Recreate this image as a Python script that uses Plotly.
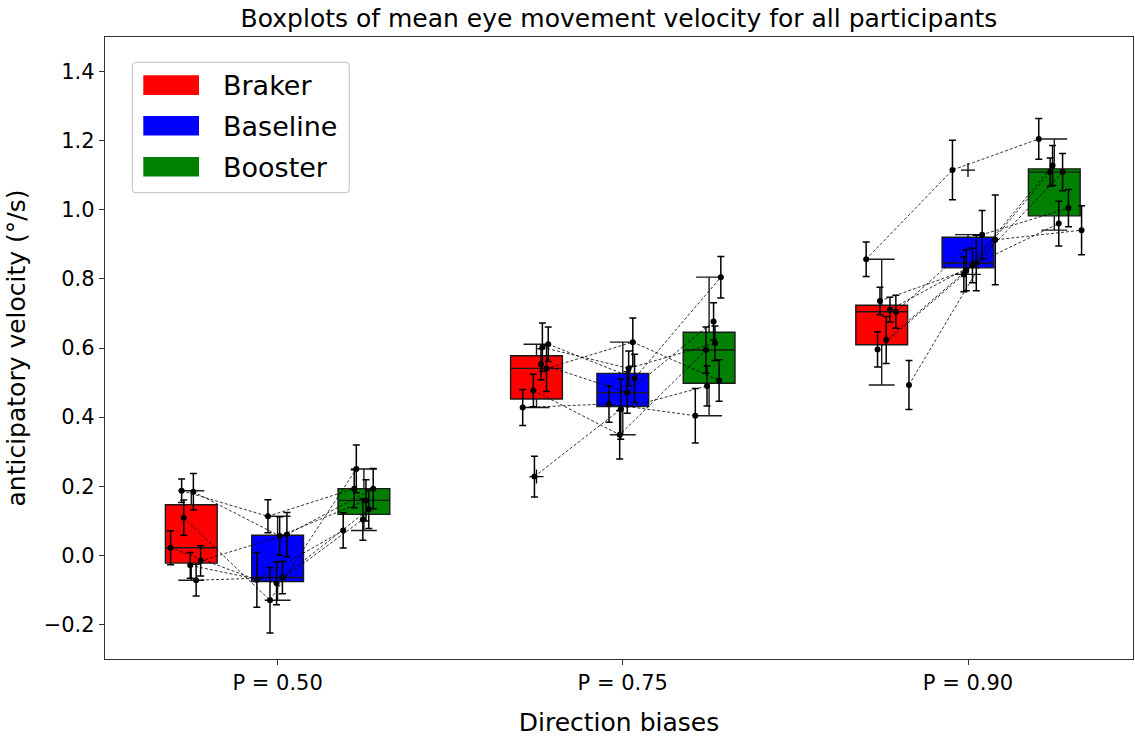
import numpy as np
import plotly.graph_objects as go

# ---------------- data ----------------
groups = ["P = 0.50", "P = 0.75", "P = 0.90"]
conditions = ["Braker", "Baseline", "Booster"]
colors = ["#ff0000", "#0000ff", "#008000"]

# per-participant horizontal jitter inside each direction-bias group
jitter_p50 = [-0.060, -0.028, -0.022, 0.027, 0.014, 0.006, -0.003]
jitter_p75 = [0.034, 0.017, 0.013, 0.029, -0.009, -0.040, -0.006]
jitter_p90 = [-0.045, -0.005, 0.024, 0.041, 0.013, -0.012, 0.079]

# mean anticipatory velocity per participant
braker_p50 = [0.022, 0.187, 0.109, -0.016, -0.072, 0.184, -0.029]
baseline_p50 = [-0.071, 0.113, -0.130, 0.060, -0.064, 0.056, -0.081]
booster_p50 = [0.072, 0.193, 0.250, 0.193, 0.133, 0.159, 0.104]

braker_p75 = [0.611, 0.602, 0.553, 0.541, 0.477, 0.428, 0.228]
baseline_p75 = [0.512, 0.541, 0.471, 0.617, 0.349, 0.438, 0.423]
booster_p75 = [0.805, 0.614, 0.677, 0.506, 0.594, 0.404, 0.490]

braker_p90 = [0.857, 0.736, 0.711, 0.705, 0.623, 0.596, 0.493]
baseline_p90 = [1.115, 0.825, 0.846, 0.928, 0.839, 0.813, 0.913]
booster_p90 = [1.205, 1.128, 1.109, 1.005, 0.960, 1.109, 0.941]

# error bars (half-length) per participant
braker_err_p50 = [0.049, 0.034, 0.051, 0.044, 0.046, 0.053, 0.037]
baseline_err_p50 = [0.079, 0.048, 0.095, 0.064, 0.047, 0.056, 0.062]
booster_err_p50 = [0.051, 0.055, 0.069, 0.058, 0.055, 0.060, 0.060]

braker_err_p75 = [0.050, 0.070, 0.045, 0.067, 0.047, 0.052, 0.059]
baseline_err_p75 = [0.070, 0.050, 0.060, 0.070, 0.070, 0.053, 0.087]
booster_err_p75 = [0.060, 0.050, 0.054, 0.060, 0.067, 0.079, 0.058]

braker_err_p90 = [0.050, 0.040, 0.036, 0.048, 0.068, 0.051, 0.071]
baseline_err_p90 = [0.086, 0.059, 0.080, 0.070, 0.050, 0.050, 0.130]
booster_err_p90 = [0.059, 0.058, 0.054, 0.054, 0.065, 0.041, 0.071]

y_ticks = [-0.2, 0.0, 0.2, 0.4, 0.6, 0.8, 1.0, 1.2, 1.4]

# ---------------- assemble ----------------
group_pos = [0, 1, 2]
cond_offset = [-0.25, 0.0, 0.25]
box_width = 0.15

jitters = [jitter_p50, jitter_p75, jitter_p90]
values = [
    [braker_p50, baseline_p50, booster_p50],
    [braker_p75, baseline_p75, booster_p75],
    [braker_p90, baseline_p90, booster_p90],
]
errors = [
    [braker_err_p50, baseline_err_p50, booster_err_p50],
    [braker_err_p75, baseline_err_p75, booster_err_p75],
    [braker_err_p90, baseline_err_p90, booster_err_p90],
]

FONT = "DejaVu Sans"
EDGE = "#1a1a1a"

fig = go.Figure()

# boxes (matplotlib-style statistics: linear percentiles, 1.5 IQR whiskers)
flier_x, flier_y = [], []
for c, (cname, col) in enumerate(zip(conditions, colors)):
    xs, q1s, meds, q3s, lows, highs = [], [], [], [], [], []
    for g in range(3):
        v = np.array(values[g][c])
        q1, med, q3 = np.percentile(v, [25, 50, 75])
        iqr = q3 - q1
        lo = v[v >= q1 - 1.5 * iqr].min()
        hi = v[v <= q3 + 1.5 * iqr].max()
        pos = group_pos[g] + cond_offset[c]
        xs.append(pos); q1s.append(q1); meds.append(med); q3s.append(q3)
        lows.append(lo); highs.append(hi)
        for val in v[(v < lo) | (v > hi)]:
            flier_x.append(pos); flier_y.append(val)
    fig.add_trace(go.Box(
        x=xs, q1=q1s, median=meds, q3=q3s, lowerfence=lows, upperfence=highs,
        width=box_width, whiskerwidth=0.5, boxpoints=False,
        fillcolor=col, line=dict(color=EDGE, width=1.4),
        name=cname, showlegend=False, hoverinfo="skip",
    ))

# fliers
fig.add_trace(go.Scatter(
    x=flier_x, y=flier_y, mode="markers",
    marker=dict(symbol="cross-thin", size=10, color="black",
                line=dict(color="black", width=1.3)),
    showlegend=False, hoverinfo="skip",
))

# participant connecting lines
lx, ly = [], []
for g in range(3):
    for p in range(len(jitters[g])):
        for c in range(3):
            lx.append(group_pos[g] + cond_offset[c] + jitters[g][p])
            ly.append(values[g][c][p])
        lx.append(None); ly.append(None)
fig.add_trace(go.Scatter(
    x=lx, y=ly, mode="lines",
    line=dict(color="black", width=0.8, dash="3px,2px"),
    showlegend=False, hoverinfo="skip",
))

# participant points with error bars
for c in range(3):
    px, py, pe = [], [], []
    for g in range(3):
        for p in range(len(jitters[g])):
            px.append(group_pos[g] + cond_offset[c] + jitters[g][p])
            py.append(values[g][c][p])
            pe.append(errors[g][c][p])
    fig.add_trace(go.Scatter(
        x=px, y=py, mode="markers",
        marker=dict(color="black", size=6),
        error_y=dict(type="data", array=pe, visible=True,
                     color="black", thickness=1.5, width=3.5),
        showlegend=False, hoverinfo="skip",
    ))

# ---------------- manual matplotlib-like legend ----------------
L, R, T, B = 105, 1133, 37, 659
def px2x(p): return (p - L) / (R - L)
def px2y(p): return (B - p) / (B - T)

x0, x1, y0, y1 = px2x(132.3), px2x(349.3), px2y(192.7), px2y(62.3)
rx, ry = 4 / (R - L), 4 / (B - T)
path = (f"M {x0+rx},{y0} L {x1-rx},{y0} Q {x1},{y0} {x1},{y0+ry} "
        f"L {x1},{y1-ry} Q {x1},{y1} {x1-rx},{y1} L {x0+rx},{y1} "
        f"Q {x0},{y1} {x0},{y1-ry} L {x0},{y0+ry} Q {x0},{y0} {x0+rx},{y0} Z")
shapes = [dict(type="path", path=path, xref="paper", yref="paper",
               fillcolor="rgba(255,255,255,0.8)",
               line=dict(color="#cccccc", width=1.2))]
annotations = []
sw_tops = [75.3, 116.0, 157.0]
for i, (cname, col) in enumerate(zip(conditions, colors)):
    top = sw_tops[i]
    shapes.append(dict(type="rect", xref="paper", yref="paper",
                       x0=px2x(143.3), x1=px2x(199.0),
                       y0=px2y(top + 19.6), y1=px2y(top),
                       fillcolor=col, line=dict(width=0)))
    annotations.append(dict(xref="paper", yref="paper",
                            x=px2x(221.0), y=px2y(top + 10.5),
                            xanchor="left", yanchor="middle",
                            text=cname, showarrow=False,
                            font=dict(family=FONT, size=27, color="black")))

fig.update_layout(
    width=1135, height=737,
    margin=dict(l=L, r=1135 - R, t=T, b=737 - B),
    paper_bgcolor="white", plot_bgcolor="white",
    boxmode="overlay",
    font=dict(family=FONT, color="black"),
    title=dict(text="Boxplots of mean eye movement velocity for all participants",
               x=(L + R) / 2 / 1135, xanchor="center",
               y=1 - 18 / 737, yanchor="middle", yref="container",
               font=dict(family=FONT, size=25, color="black")),
    shapes=shapes, annotations=annotations,
    showlegend=False,
)
fig.update_xaxes(
    range=[-0.5, 2.478], tickvals=group_pos, ticktext=groups,
    ticks="outside", ticklen=5, tickwidth=1.2, tickcolor="#333",
    showline=True, linecolor="#333", linewidth=1.3, mirror=True,
    showgrid=False, zeroline=False,
    tickfont=dict(family=FONT, size=21),
    title=dict(text="Direction biases", font=dict(family=FONT, size=25), standoff=21),
)
fig.update_yaxes(
    range=[-0.3, 1.5], tickvals=y_ticks,
    ticktext=[f"{t:.1f}".replace("-", "\u2212") for t in y_ticks],
    ticks="outside", ticklen=5, tickwidth=1.2, tickcolor="#333",
    showline=True, linecolor="#333", linewidth=1.3, mirror=True,
    showgrid=False, zeroline=False,
    tickfont=dict(family=FONT, size=21),
    title=dict(text="anticipatory velocity (°/s)", font=dict(family=FONT, size=25), standoff=10),
)

fig.write_html("out.html", config={"displayModeBar": False},
               post_script="document.body.style.margin='0';document.body.style.overflow='hidden';")
